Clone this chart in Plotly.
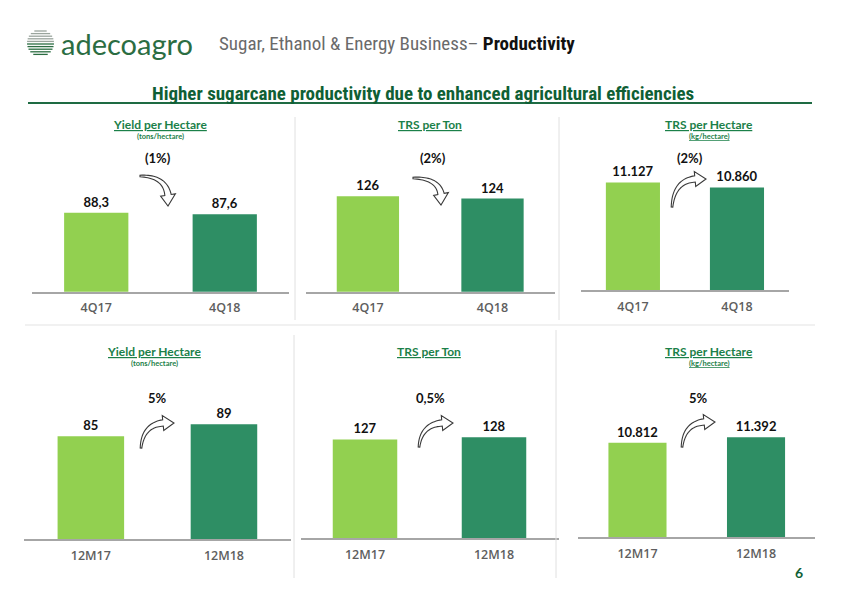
import numpy as np
import plotly.graph_objects as go

W, H = 842, 595

# ---------------- data ----------------
periods_q = ["4Q17", "4Q18"]
periods_y = ["12M17", "12M18"]
yield_q = [88.3, 87.6]
trs_ton_q = [126, 124]
trs_ha_q = [11127, 10860]
yield_y = [85, 89]
trs_ton_y = [127, 128]
trs_ha_y = [10812, 11392]
changes = ["(1%)", "(2%)", "(2%)", "5%", "0,5%", "5%"]
titles = ["Yield per Hectare", "TRS per Ton", "TRS per Hectare",
          "Yield per Hectare", "TRS per Ton", "TRS per Hectare"]
units = ["(tons/hectare)", "", "<u>(kg/hectare)</u>",
         "(tons/hectare)", "", "<u>(kg/hectare)</u>"]

series = [(periods_q, yield_q), (periods_q, trs_ton_q), (periods_q, trs_ha_q),
          (periods_y, yield_y), (periods_y, trs_ton_y), (periods_y, trs_ha_y)]

# ---------------- style ----------------
FONT = "Lato, 'Open Sans', sans-serif"
TICKFONT = "'Open Sans', Lato, sans-serif"
NARROW = "'Liberation Sans Narrow', 'Roboto Condensed', Lato, sans-serif"
LIGHT = "#92D050"
DARK = "#2E8E64"
TITLE_GREEN = "#1B8049"
HEAD_GREEN = "#0F5F35"

# panel geometry in pixels: x0, x1, baseline, top, y-range
geom = [
    (32, 289, 291.7, 150, [53.8, 115.7]),
    (305.6, 554.8, 291.7, 150, [43, 166.2]),
    (580.9, 789, 290, 150, [5376, 12863]),
    (24.3, 290.5, 539, 390, [50.7, 100.4]),
    (300.5, 558.5, 538.3, 390, [84, 148.5]),
    (578.2, 815.3, 537.3, 390, [642, 16481]),
]
bar_w = [0.5, 0.5, 0.52, 0.5, 0.5, 0.49]
fmts = ["%{y:,.1f}", "%{y:,.0f}", "%{y:,.0f}", "%{y:,.0f}", "%{y:,.0f}", "%{y:,.0f}"]
title_pos = [(160, 124.5), (430, 124.5), (709, 124.5), (154, 351.5), (429, 351.5), (709, 351.5)]
unit_pos = [(160, 136.5), None, (709, 136.5), (154, 363.3), None, (709, 363.3)]
change_pos = [(158, 158.5), (433, 158.5), (690, 158.5), (157, 398), (430, 398), (698, 398)]
# arrows: tail, control, head base, tip
arrows = [
    ((140, 176), (165, 176), (168, 195), (168, 206)),
    ((413, 178), (438, 178), (441, 194), (441, 205)),
    ((672, 207), (674, 181), (695, 179), (706, 179)),
    ((141, 448), (143, 425), (163, 423), (174, 423)),
    ((419, 447), (421, 425), (442, 423), (453, 423)),
    ((682, 447), (684, 424), (704, 422), (715, 422)),
]

fig = go.Figure()


def px(x):
    return x / W


def py(y):
    return 1 - y / H


layout_axes = {}
for i, ((cats, vals), (x0, x1, yb, yt, yr)) in enumerate(zip(series, geom)):
    xa = "x" if i == 0 else f"x{i + 1}"
    ya = "y" if i == 0 else f"y{i + 1}"
    fig.add_trace(go.Bar(
        x=cats, y=vals, xaxis=xa, yaxis=ya, width=bar_w[i],
        marker=dict(color=[LIGHT, DARK], line=dict(width=0)),
        texttemplate=fmts[i], textposition="outside", cliponaxis=False,
        textfont=dict(family=FONT, size=13, color="#111111", weight="bold"),
        showlegend=False, hoverinfo="skip",
    ))
    kx = "xaxis" if i == 0 else f"xaxis{i + 1}"
    ky = "yaxis" if i == 0 else f"yaxis{i + 1}"
    layout_axes[kx] = dict(
        domain=[px(x0), px(x1)], anchor=ya, type="category",
        showline=True, linecolor="#A6A6A6", linewidth=1.5,
        showgrid=False, zeroline=False, ticks="outside", ticklen=4,
        tickcolor="rgba(0,0,0,0)",
        tickfont=dict(family=TICKFONT, size=12.5, color="#5E5E5E", weight=600),
        fixedrange=True,
    )
    layout_axes[ky] = dict(
        domain=[py(yb), py(yt)], anchor=xa, range=yr,
        visible=False, showgrid=False, zeroline=False, fixedrange=True,
    )

fig.update_layout(
    width=W, height=H,
    margin=dict(l=0, r=0, t=0, b=0),
    paper_bgcolor="white", plot_bgcolor="rgba(0,0,0,0)",
    separators=",.",
    bargap=0.5,
    **layout_axes,
)


def ann(text, x, y, size, color, weight="normal", xanchor="center", family=FONT):
    fig.add_annotation(
        x=px(x), y=py(y), xref="paper", yref="paper", text=text,
        showarrow=False, xanchor=xanchor, yanchor="middle",
        font=dict(family=family, size=size, color=color, weight=weight),
    )


# panel titles, units, change labels
for i in range(6):
    ann(f"<u>{titles[i]}</u>", *title_pos[i], 12, TITLE_GREEN, "bold")
    if unit_pos[i] is not None:
        ann(units[i], *unit_pos[i], 7.5, TITLE_GREEN, "bold")
    ann(changes[i], *change_pos[i], 13, "#111111", "bold")

# header
ann("adecoagro", 59, 44, 29, "#2B6D42", xanchor="left")
ann("Sugar, Ethanol &amp; Energy Business– <b style='color:#111'>Productivity</b>",
    217, 44, 19, "#6A6A6A", "normal", xanchor="left", family=NARROW)
ann("Higher sugarcane productivity due to enhanced agricultural efficiencies",
    423, 93, 19, HEAD_GREEN, "bold", family=NARROW)
ann("6", 799, 572.5, 14, HEAD_GREEN, "bold")

shapes = []
# headline rule
shapes.append(dict(type="line", xref="paper", yref="paper",
                   x0=px(28), x1=px(812), y0=py(103), y1=py(103),
                   line=dict(color="#1E6B43", width=2)))
# separators
sep_style = dict(color="#E0E0E0", width=1)
for (x, y0, y1) in [(295, 117, 320), (559, 117, 320), (294, 335, 578), (556, 330, 578)]:
    shapes.append(dict(type="line", xref="paper", yref="paper",
                       x0=px(x), x1=px(x), y0=py(y0), y1=py(y1), line=sep_style))
shapes.append(dict(type="line", xref="paper", yref="paper",
                   x0=px(25), x1=px(815), y0=py(325), y1=py(325),
                   line=dict(color="#E3E3E3", width=1)))

# logo (striped globe)
cx, cy, r = 40.5, 43, 13.5
for k, yy in enumerate(np.arange(31, 56.5, 2.6)):
    d = yy - cy
    if abs(d) >= r:
        continue
    hc = np.sqrt(r * r - d * d)
    col = "#9AA59D" if yy < 43 else "#2B6D42"
    shapes.append(dict(type="line", xref="paper", yref="paper",
                       x0=px(cx - hc), x1=px(cx + hc), y0=py(yy), y1=py(yy),
                       line=dict(color=col, width=1.3)))


# curved arrows
def arrow_path(T, C, B, Hd, w0=0.8, w1=3.2, hw=7.5):
    T, C, B, Hd = map(np.array, (T, C, B, Hd))
    ts = np.linspace(0, 1, 24)
    left, right = [], []
    for t in ts:
        p = (1 - t) ** 2 * T + 2 * (1 - t) * t * C + t ** 2 * B
        tg = 2 * (1 - t) * (C - T) + 2 * t * (B - C)
        tg = tg / np.linalg.norm(tg)
        n = np.array([-tg[1], tg[0]])
        w = w0 + (w1 - w0) * t
        left.append(p + w * n)
        right.append(p - w * n)
    tg = B - C
    tg = tg / np.linalg.norm(tg)
    n = np.array([-tg[1], tg[0]])
    pts = left + [B + hw * n, Hd, B - hw * n] + right[::-1]
    s = "M " + " L ".join(f"{px(p[0]):.5f},{py(p[1]):.5f}" for p in pts) + " Z"
    return s


for a in arrows:
    shapes.append(dict(type="path", xref="paper", yref="paper",
                       path=arrow_path(*a), fillcolor="white",
                       line=dict(color="#3A3A3A", width=1.1)))

fig.update_layout(shapes=shapes)

fig.write_html("out.html", config={"displayModeBar": False},
               post_script="document.body.style.margin='0px';")
